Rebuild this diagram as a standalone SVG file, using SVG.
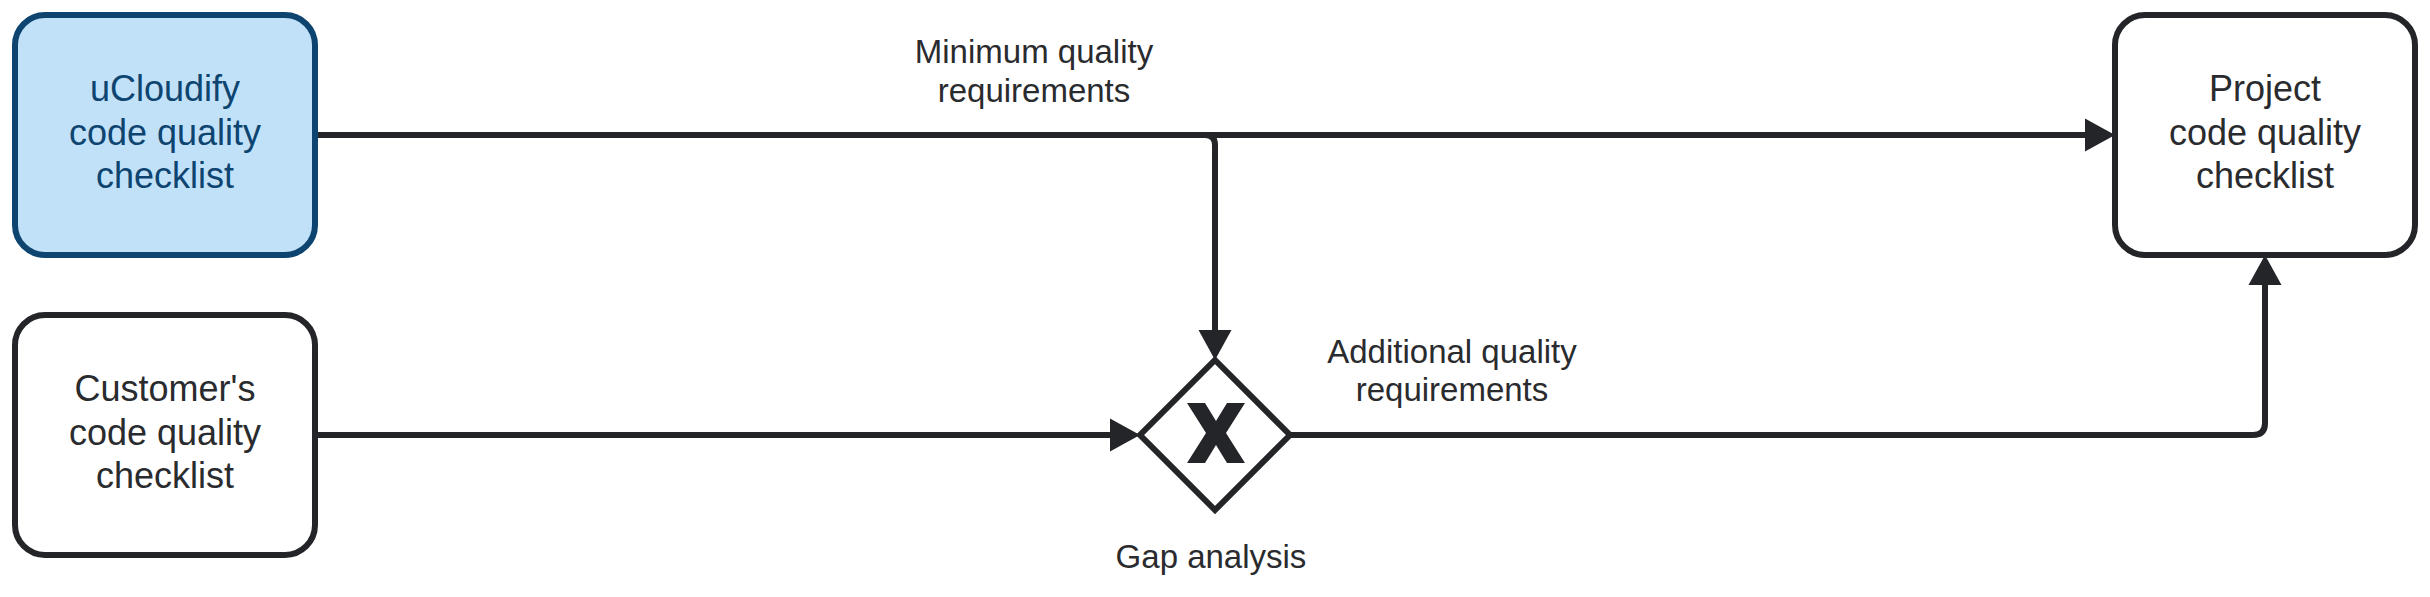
<svg xmlns="http://www.w3.org/2000/svg" width="2430" height="597" viewBox="0 0 2430 597">
<defs>
<style>
.box{fill:#ffffff;stroke:#242529;stroke-width:6}
.blue{fill:#c1e1f9;stroke:#0e4470;stroke-width:6}
.t{font-family:"Liberation Sans",Arial,sans-serif;font-size:36px;fill:#2a2b2e;text-anchor:middle}
.tb{fill:#0e4470}
.lbl{font-family:"Liberation Sans",Arial,sans-serif;font-size:33px;fill:#2a2b2e;text-anchor:middle}
.edge{fill:none;stroke:#242529;stroke-width:6}
</style>
<marker id="arr" markerUnits="userSpaceOnUse" markerWidth="32" markerHeight="36" viewBox="0 -18 32 36" refX="0" refY="0" orient="auto">
<path d="M0,-16.5 L30,0 L0,16.5 z" fill="#242529"/>
</marker>
</defs>
<rect width="2430" height="597" fill="#ffffff"/>
<g id="connectors">
<path class="edge" d="M315,135 H2085" marker-end="url(#arr)"/>
<path class="edge" d="M1200,135 H1205 Q1215,135 1215,145 V330" marker-end="url(#arr)"/>
<path class="edge" d="M315,435 H1110" marker-end="url(#arr)"/>
<path class="edge" d="M1290,435 H2253 Q2265,435 2265,423 V285" marker-end="url(#arr)"/>
<text class="lbl" x="1034" y="63">Minimum quality</text>
<text class="lbl" x="1034" y="102">requirements</text>
<text class="lbl" x="1452" y="363">Additional quality</text>
<text class="lbl" x="1452" y="401">requirements</text>
</g>
<g id="ucloudify">
<rect class="blue" x="15" y="15" width="300" height="240" rx="30" ry="30"/>
<text class="t tb" x="165" y="101">uCloudify</text>
<text class="t tb" x="165" y="145">code quality</text>
<text class="t tb" x="165" y="188">checklist</text>
</g>
<g id="customer">
<rect class="box" x="15" y="315" width="300" height="240" rx="30" ry="30"/>
<text class="t" x="165" y="401">Customer's</text>
<text class="t" x="165" y="445">code quality</text>
<text class="t" x="165" y="488">checklist</text>
</g>
<g id="project">
<rect class="box" x="2115" y="15" width="300" height="240" rx="30" ry="30"/>
<text class="t" x="2265" y="101">Project</text>
<text class="t" x="2265" y="145">code quality</text>
<text class="t" x="2265" y="188">checklist</text>
</g>
<g id="gap-analysis">
<polygon class="box" points="1215,360 1290,435 1215,510 1140,435"/>
<polygon fill="#242529" points="1187,403 1205,403 1216,421 1227,403 1245,403 1226,433 1245,463 1227,463 1216,445 1205,463 1187,463 1206,433"/>
<text class="lbl" x="1211" y="568">Gap analysis</text>
</g>
</svg>
